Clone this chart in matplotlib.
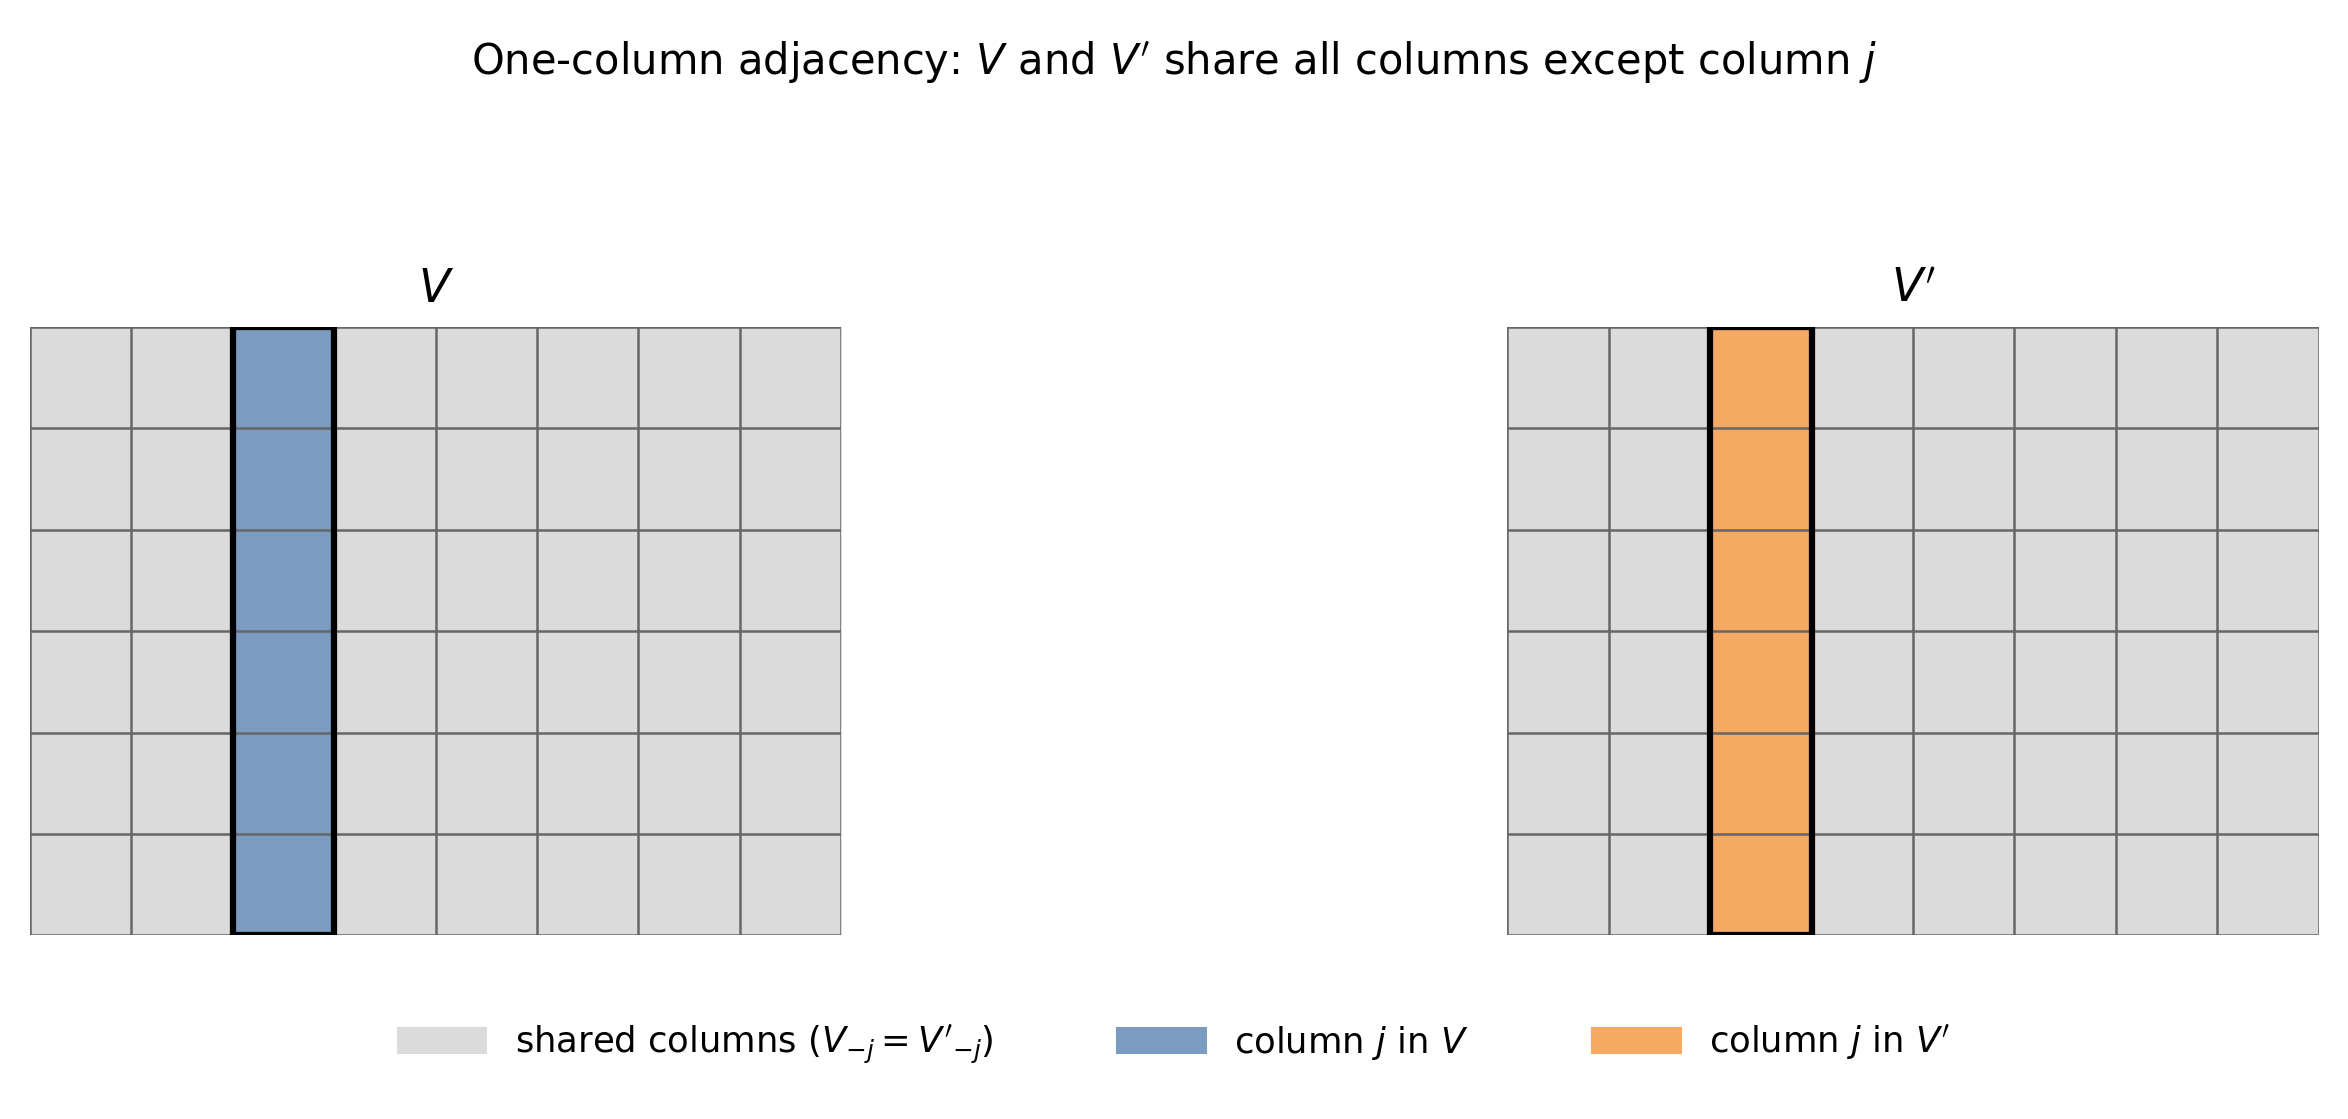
import numpy as np
import matplotlib
matplotlib.use("Agg")
import matplotlib.pyplot as plt
from matplotlib.colors import ListedColormap
from matplotlib.patches import Rectangle, Patch

n_rows = 6
n_cols = 8
col_j = 2
panel_titles = [r"$V$", r"$V'$"]
fill_colors = ["#7b9cc0", "#f5a962"]
shared_color = "#dbdbdb"
legend_labels = [r"shared columns ($V_{-j} = V'_{-j}$)", r"column $j$ in $V$", r"column $j$ in $V'$"]

fig = plt.figure(figsize=(2348 / 150, 1119 / 150), dpi=150)
boxes = [[0.0128, 0.164, 0.3455, 0.544], [0.642, 0.164, 0.3455, 0.544]]

for k in range(2):
    ax = fig.add_axes(boxes[k])
    grid = np.zeros((n_rows, n_cols))
    grid[:, col_j] = 1
    cmap = ListedColormap([shared_color, fill_colors[k]])
    ax.imshow(grid, cmap=cmap, vmin=0, vmax=1, aspect="auto",
              extent=(0, n_cols, n_rows, 0), interpolation="nearest")
    for x in range(n_cols + 1):
        ax.axvline(x, color="#666666", lw=1.2)
    for y in range(n_rows + 1):
        ax.axhline(y, color="#666666", lw=1.2)
    ax.add_patch(Rectangle((col_j, 0), 1, n_rows, fill=False, ec="black", lw=3, zorder=5))
    ax.set_xlim(0, n_cols)
    ax.set_ylim(n_rows, 0)
    ax.set_axis_off()
    ax.set_title(panel_titles[k], fontsize=22, pad=12)

fig.suptitle(r"One-column adjacency: $V$ and $V'$ share all columns except column $j$",
             fontsize=20, y=0.965)

handles = [Patch(color=c) for c in [shared_color] + fill_colors]
fig.legend(handles, legend_labels, loc="center", bbox_to_anchor=(0.5, 0.067), ncol=3,
           frameon=False, fontsize=17, handlelength=2.5, columnspacing=3.5)

fig.savefig("out.png", dpi=150)
